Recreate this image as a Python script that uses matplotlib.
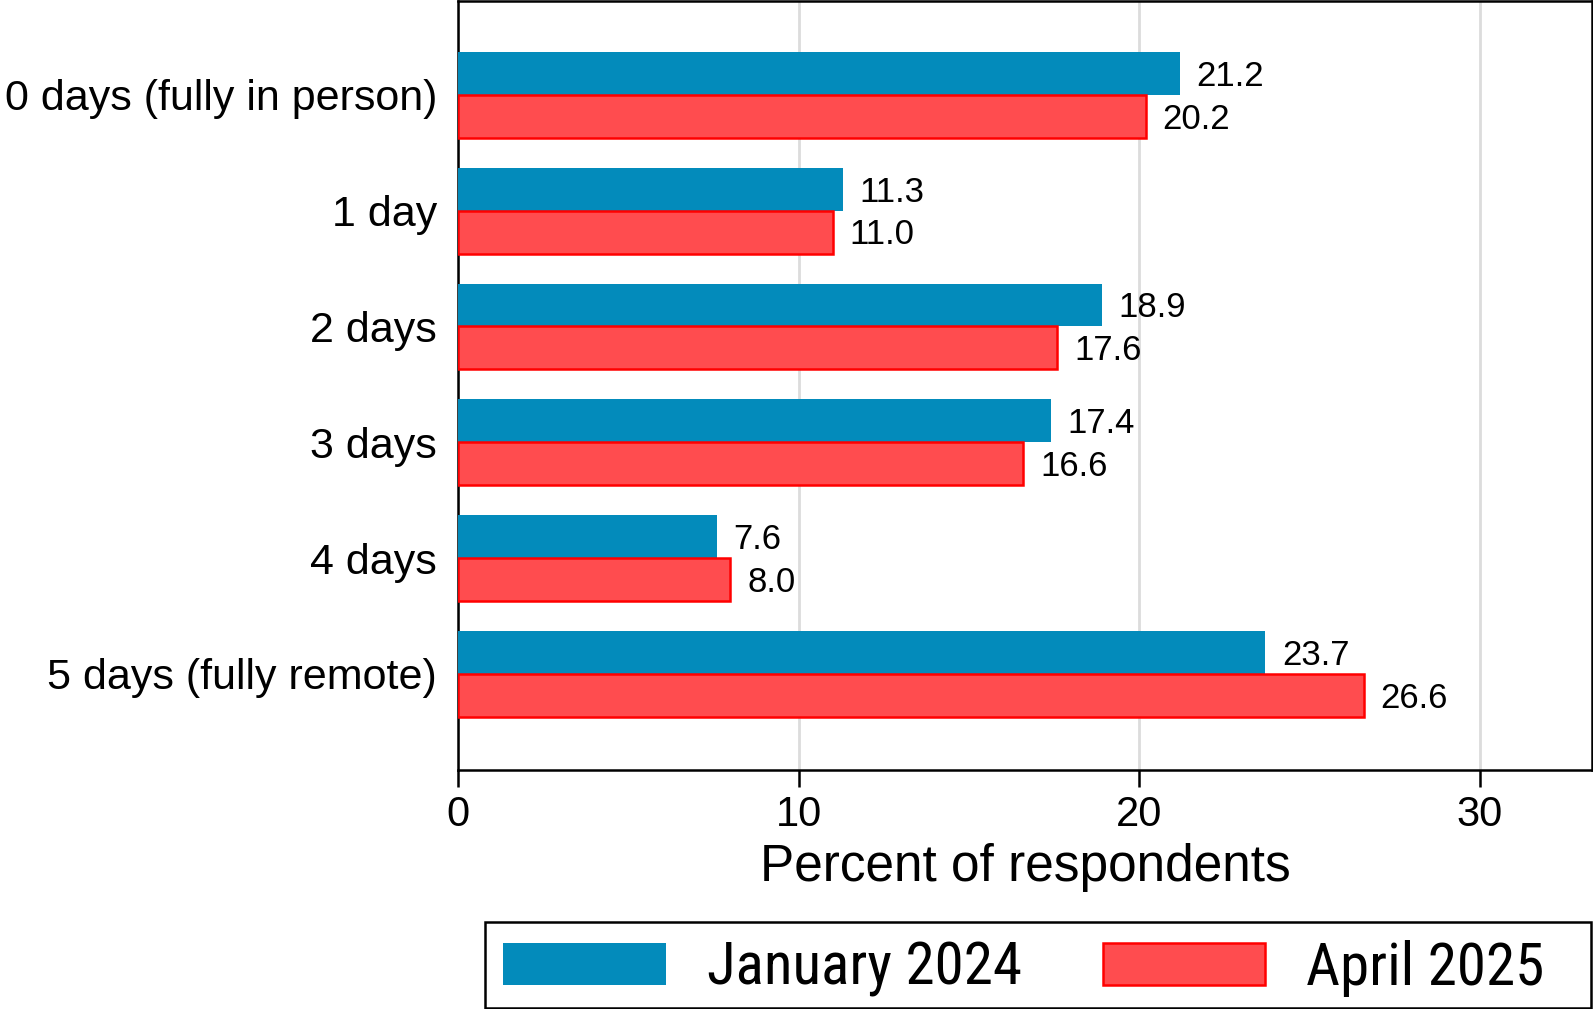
import numpy as np
import matplotlib
matplotlib.use("Agg")
import matplotlib.pyplot as plt
from matplotlib import font_manager
from matplotlib.patches import Rectangle

categories = ["0 days (fully in person)", "1 day", "2 days", "3 days", "4 days", "5 days (fully remote)"]
jan_2024 = [21.2, 11.3, 18.9, 17.4, 7.6, 23.7]
apr_2025 = [20.2, 11.0, 17.6, 16.6, 8.0, 26.6]
series_names = ["January 2024", "April 2025"]
xticks = [0, 10, 20, 30]

plt.rcParams['font.family'] = ['Liberation Sans', 'DejaVu Sans']
names = {f.name for f in font_manager.fontManager.ttflist}
legend_font = 'Liberation Sans'
for cand in ['Liberation Sans Narrow', 'Roboto Condensed']:
    if cand in names:
        legend_font = cand
        break

blue = '#038bbb'
red_fill = '#ff4c4f'
red_edge = '#ff0000'

W, H = 1593, 1009
fig = plt.figure(figsize=(W/100, H/100), dpi=100)
ax = fig.add_axes([0.2875, 0.2369, 0.712, 0.762])

y = np.arange(len(categories))
h = 0.37
b1 = ax.barh(y - h/2, jan_2024, height=h, color=blue, linewidth=0, label=series_names[0], zorder=3)
b2 = ax.barh(y + h/2, apr_2025, height=h, color=red_fill, edgecolor=red_edge, linewidth=1.8,
             label=series_names[1], zorder=3)

for bars, vals in [(b1, jan_2024), (b2, apr_2025)]:
    for r, v in zip(bars, vals):
        ax.annotate("%.1f" % v, (v, r.get_y() + r.get_height()/2), xytext=(12, -2),
                    textcoords='offset points', va='center', ha='left', fontsize=25)

ax.set_xlim(0, 33.3)
ax.set_ylim(5.83, -0.81)
ax.set_xticks(xticks)
ax.set_yticks(y)
ax.set_yticklabels(categories, fontsize=31)
ax.tick_params(axis='y', length=0, pad=15)
ax.tick_params(axis='x', length=12, width=1.8, direction='out', labelsize=30, pad=6)
ax.xaxis.grid(True, color='#dcdcdc', linewidth=2, zorder=0)
ax.set_axisbelow(True)
for s in ax.spines.values():
    s.set_linewidth(1.8)
    s.set_color('black')
ax.set_xlabel("Percent of respondents", fontsize=37, labelpad=6)

# legend box drawn by hand, stata leaves extra space on the right
fig.add_artist(Rectangle((485/W, 1.5/H), (1591-485)/W, 86/H, transform=fig.transFigure,
                         fill=False, edgecolor='black', linewidth=1.8))
leg = fig.legend(handles=[b1, b2], labels=series_names, ncol=2,
                 bbox_to_anchor=(503/W, 40.5/H), loc='center left',
                 prop={'family': legend_font, 'size': 42.5}, frameon=False,
                 handlelength=2.76, handleheight=0.73, borderaxespad=0,
                 handletextpad=0.69, borderpad=0, columnspacing=1.37)

fig.savefig("out.png", dpi=100)
